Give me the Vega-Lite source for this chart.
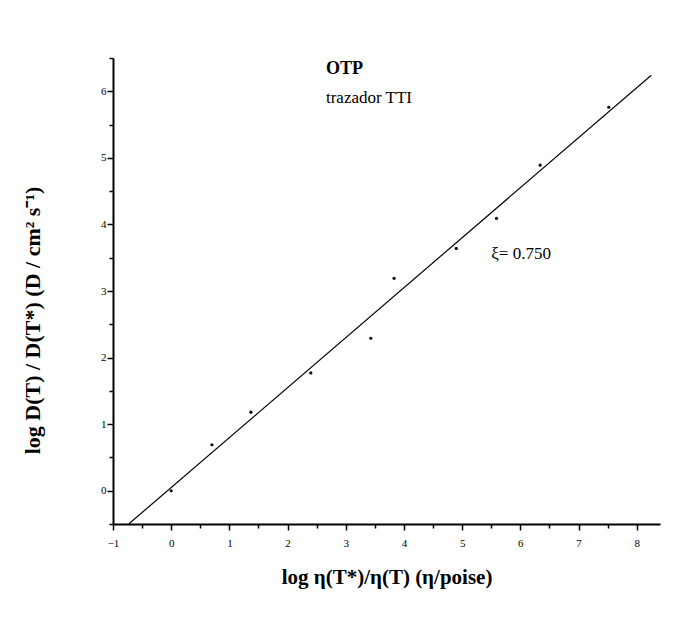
{
  "$schema": "https://vega.github.io/schema/vega-lite/v6.json",
  "autosize": "none",
  "width": 547,
  "height": 466,
  "padding": {"left": 113, "top": 58, "right": 36, "bottom": 104},
  "background": "white",
  "config": {
    "view": {"stroke": null},
    "font": "Liberation Serif",
    "axis": {
      "grid": false,
      "domainColor": "black",
      "domainWidth": 2,
      "tickColor": "black",
      "tickWidth": 1.5,
      "labelColor": "black",
      "labelFont": "Liberation Serif",
      "labelFontSize": 11,
      "labelOverlap": false,
      "labelBound": false,
      "labelFlush": false,
      "titleFont": "Liberation Serif",
      "titleFontSize": 21,
      "titleFontWeight": "bold",
      "titleColor": "black"
    }
  },
  "datasets": {
    "pts": [
      {"x": 0.0, "y": 0.0},
      {"x": 0.70, "y": 0.69},
      {"x": 1.37, "y": 1.18},
      {"x": 2.40, "y": 1.77},
      {"x": 3.43, "y": 2.29},
      {"x": 3.83, "y": 3.19},
      {"x": 4.90, "y": 3.64},
      {"x": 5.59, "y": 4.09},
      {"x": 6.34, "y": 4.89},
      {"x": 7.52, "y": 5.76}
    ],
    "fit": [
      {"x": -0.73, "y": -0.5},
      {"x": 8.25, "y": 6.24}
    ],
    "bold": [
      {"x": 2.66, "y": 6.33, "label": "OTP"}
    ],
    "plain": [
      {"x": 2.66, "y": 5.9, "label": "trazador TTI"},
      {"x": 5.5, "y": 3.55, "label": "ξ= 0.750"}
    ]
  },
  "layer": [
    {
      "data": {"name": "fit"},
      "mark": {"type": "line", "color": "black", "strokeWidth": 1.2, "clip": true},
      "encoding": {
        "x": {
          "field": "x", "type": "quantitative",
          "scale": {"domain": [-1, 8.4], "nice": false, "zero": false},
          "axis": {
            "title": "log η(T*)/η(T) (η/poise)",
            "values": [-1, -0.5, 0, 0.5, 1, 1.5, 2, 2.5, 3, 3.5, 4, 4.5, 5, 5.5, 6, 6.5, 7, 7.5, 8],
            "tickCount": 50,
            "labelExpr": "datum.value % 1 === 0 ? format(datum.value, 'd') : ''",
            "tickSize": {"condition": {"test": "datum.value % 1 === 0", "value": 6}, "value": 4},
            "labelPadding": 7,
            "titleY": 53,
            "titleBaseline": "middle"
          }
        },
        "y": {
          "field": "y", "type": "quantitative",
          "scale": {"domain": [-0.5, 6.5], "nice": false, "zero": false},
          "axis": {
            "title": "log D(T) / D(T*)  (D / cm² s⁻¹)",
            "titleFontSize": 22,
            "values": [-0.5, 0, 0.5, 1, 1.5, 2, 2.5, 3, 3.5, 4, 4.5, 5, 5.5, 6, 6.5],
            "tickCount": 50,
            "labelExpr": "datum.value % 1 === 0 ? format(datum.value, 'd') : ''",
            "tickSize": {"condition": {"test": "datum.value % 1 === 0", "value": 6}, "value": 4},
            "labelPadding": 1,
            "titlePadding": 56,
            "titleY": 262
          }
        }
      }
    },
    {
      "data": {"name": "pts"},
      "mark": {"type": "circle", "color": "black", "size": 10, "opacity": 1},
      "encoding": {
        "x": {"field": "x", "type": "quantitative"},
        "y": {"field": "y", "type": "quantitative"}
      }
    },
    {
      "data": {"name": "bold"},
      "mark": {"type": "text", "align": "left", "baseline": "middle", "color": "black", "font": "Liberation Serif", "fontWeight": "bold", "fontSize": 18},
      "encoding": {
        "x": {"field": "x", "type": "quantitative"},
        "y": {"field": "y", "type": "quantitative"},
        "text": {"field": "label"}
      }
    },
    {
      "data": {"name": "plain"},
      "mark": {"type": "text", "align": "left", "baseline": "middle", "color": "black", "font": "Liberation Serif", "fontSize": 17},
      "encoding": {
        "x": {"field": "x", "type": "quantitative"},
        "y": {"field": "y", "type": "quantitative"},
        "text": {"field": "label"}
      }
    }
  ]
}
